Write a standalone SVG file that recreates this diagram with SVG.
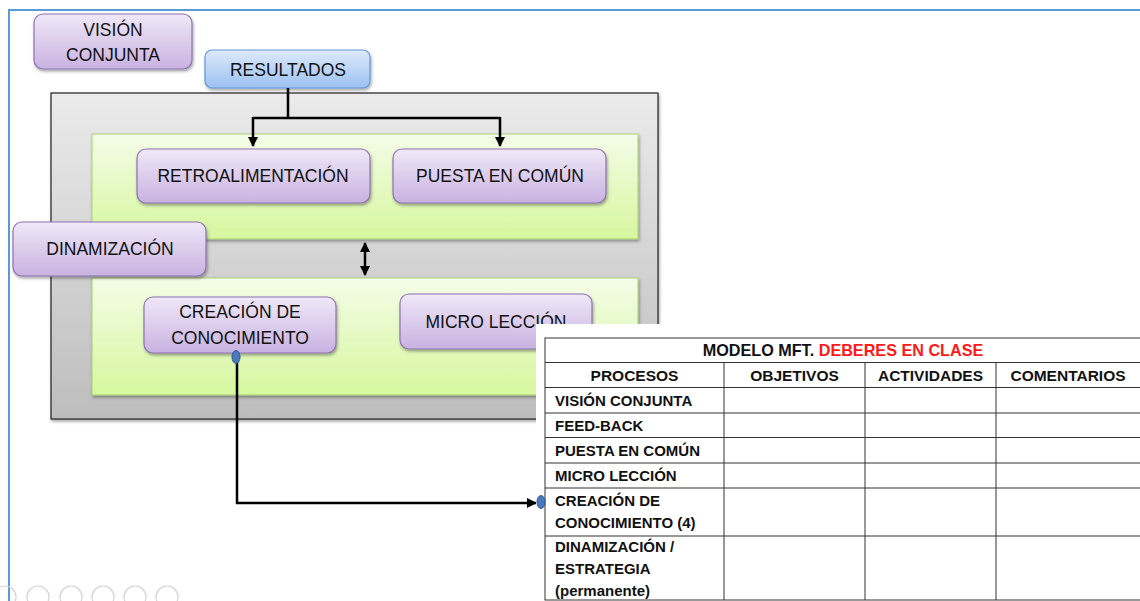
<svg xmlns="http://www.w3.org/2000/svg" width="1140" height="601" viewBox="0 0 1140 601">
<style>
.t{font-family:"Liberation Sans",Arial,sans-serif;fill:#111;}
.box{font-size:17.5px;text-anchor:middle;}
.tb{font-size:15px;font-weight:bold;}
.th{font-size:15.5px;font-weight:bold;text-anchor:middle;}
.conn{fill:none;stroke:#000;stroke-width:2.5;}
.grid{stroke:#333;stroke-width:1;fill:none;}
.icon{fill:none;stroke:#d4d4d4;stroke-width:1.2;}
</style>
<defs>
<linearGradient id="gPurple" x1="0" y1="0" x2="0" y2="1"><stop offset="0" stop-color="#F0E8F8"/><stop offset="1" stop-color="#C8B2E0"/></linearGradient>
<linearGradient id="gBlue" x1="0" y1="0" x2="0" y2="1"><stop offset="0" stop-color="#DDEAFB"/><stop offset="1" stop-color="#9CC1F0"/></linearGradient>
<linearGradient id="gGray" x1="0" y1="0" x2="0" y2="1"><stop offset="0" stop-color="#EBEBEB"/><stop offset="1" stop-color="#BDBDBD"/></linearGradient>
<linearGradient id="gGreen" x1="0" y1="0" x2="0" y2="1"><stop offset="0" stop-color="#F4FCE8"/><stop offset="1" stop-color="#D6F79E"/></linearGradient>
<filter id="sh" x="-10%" y="-10%" width="120%" height="130%"><feDropShadow dx="1" dy="2" stdDeviation="1.5" flood-color="#000" flood-opacity="0.35"/></filter>
<marker id="ah" viewBox="0 0 10 10" refX="9" refY="5" markerWidth="4" markerHeight="4" orient="auto-start-reverse"><path d="M0,0 L10,5 L0,10 z" fill="#000"/></marker>
</defs>
<rect x="0" y="0" width="1140" height="601" fill="#fff"/>
<rect x="9" y="10" width="1140" height="600" fill="none" stroke="#5B9BD5" stroke-width="2"/>

<g id="grupo-principal">
<rect x="51" y="93" width="607" height="326" fill="url(#gGray)" stroke="#222" stroke-width="1.2" filter="url(#sh)"/>
</g>
<g id="zona-superior">
<rect x="92" y="134" width="546" height="105" fill="url(#gGreen)" stroke="#A9CF74" stroke-width="1" filter="url(#sh)"/>
</g>
<g id="zona-inferior">
<rect x="92" y="278" width="546" height="117" fill="url(#gGreen)" stroke="#A9CF74" stroke-width="1" filter="url(#sh)"/>
</g>

<g id="vision-conjunta">
<rect x="34" y="14" width="158" height="55" rx="9" fill="url(#gPurple)" stroke="#8E72B0" stroke-width="1.2" filter="url(#sh)"/>
<text class="t box" x="113" y="36">VISIÓN</text>
<text class="t box" x="113" y="61">CONJUNTA</text>
</g>
<g id="resultados">
<rect x="205" y="50" width="165" height="38" rx="7" fill="url(#gBlue)" stroke="#6296D6" stroke-width="1.2" filter="url(#sh)"/>
<text class="t box" x="288" y="76">RESULTADOS</text>
</g>
<g id="retroalimentacion">
<rect x="137" y="149" width="233" height="54" rx="9" fill="url(#gPurple)" stroke="#8E72B0" stroke-width="1.2" filter="url(#sh)"/>
<text class="t box" x="253" y="182">RETROALIMENTACIÓN</text>
</g>
<g id="puesta-en-comun">
<rect x="393" y="149" width="213" height="54" rx="9" fill="url(#gPurple)" stroke="#8E72B0" stroke-width="1.2" filter="url(#sh)"/>
<text class="t box" x="500" y="182">PUESTA EN COMÚN</text>
</g>
<g id="dinamizacion">
<rect x="13" y="222" width="193" height="54" rx="9" fill="url(#gPurple)" stroke="#8E72B0" stroke-width="1.2" filter="url(#sh)"/>
<text class="t box" x="110" y="255">DINAMIZACIÓN</text>
</g>
<g id="creacion-conocimiento">
<rect x="144" y="297" width="192" height="56" rx="9" fill="url(#gPurple)" stroke="#8E72B0" stroke-width="1.2" filter="url(#sh)"/>
<text class="t box" x="240" y="318">CREACIÓN DE</text>
<text class="t box" x="240" y="344">CONOCIMIENTO</text>
</g>
<g id="micro-leccion">
<rect x="400" y="294" width="192" height="55" rx="9" fill="url(#gPurple)" stroke="#8E72B0" stroke-width="1.2" filter="url(#sh)"/>
<text class="t box" x="496" y="328">MICRO LECCIÓN</text>
</g>

<g id="conectores">
<path class="conn" d="M288,88 V118 M253,118 H500"/>
<path class="conn" d="M253,117 V146" marker-end="url(#ah)"/>
<path class="conn" d="M500,117 V146" marker-end="url(#ah)"/>
<path class="conn" d="M365,243 V275" marker-start="url(#ah)" marker-end="url(#ah)"/>
<path class="conn" d="M237,360 V503 H536" marker-end="url(#ah)"/>
<ellipse cx="236" cy="357" rx="4" ry="6.5" fill="#4A78BD" stroke="#2F5597" stroke-width="1"/>
</g>

<g id="tabla">
<rect x="536" y="324" width="610" height="280" fill="#fff"/>
<rect x="545" y="338" width="600" height="262" class="grid"/>
<path class="grid" d="M545,362.5 H1140 M545,387.5 H1140 M545,413 H1140 M545,437.5 H1140 M545,463 H1140 M545,488 H1140 M545,536 H1140 M724,362.5 V600 M865,362.5 V600 M996,362.5 V600"/>
<text class="t" x="843" y="356" font-size="16.2" font-weight="bold" text-anchor="middle"><tspan>MODELO MFT. </tspan><tspan fill="#FF1A1A">DEBERES EN CLASE</tspan></text>
<text class="t th" x="634.5" y="381">PROCESOS</text>
<text class="t th" x="794.5" y="381">OBJETIVOS</text>
<text class="t th" x="930.5" y="381">ACTIVIDADES</text>
<text class="t th" x="1068" y="381">COMENTARIOS</text>
<text class="t tb" x="555" y="406">VISIÓN CONJUNTA</text>
<text class="t tb" x="555" y="431">FEED-BACK</text>
<text class="t tb" x="555" y="456">PUESTA EN COMÚN</text>
<text class="t tb" x="555" y="481">MICRO LECCIÓN</text>
<text class="t tb" x="555" y="506">CREACIÓN DE</text>
<text class="t tb" x="555" y="528">CONOCIMIENTO (4)</text>
<text class="t tb" x="555" y="552">DINAMIZACIÓN /</text>
<text class="t tb" x="555" y="574">ESTRATEGIA</text>
<text class="t tb" x="555" y="596">(permanente)</text>
<ellipse cx="541" cy="502" rx="4" ry="6.5" fill="#4A78BD" stroke="#2F5597" stroke-width="1"/>
</g>

<g id="controles">
<circle class="icon" cx="5" cy="597" r="11"/>
<circle class="icon" cx="38" cy="597" r="11"/>
<circle class="icon" cx="71" cy="597" r="11"/>
<circle class="icon" cx="103" cy="597" r="11"/>
<circle class="icon" cx="135" cy="597" r="11"/>
<circle class="icon" cx="167" cy="597" r="11"/>
</g>
</svg>
